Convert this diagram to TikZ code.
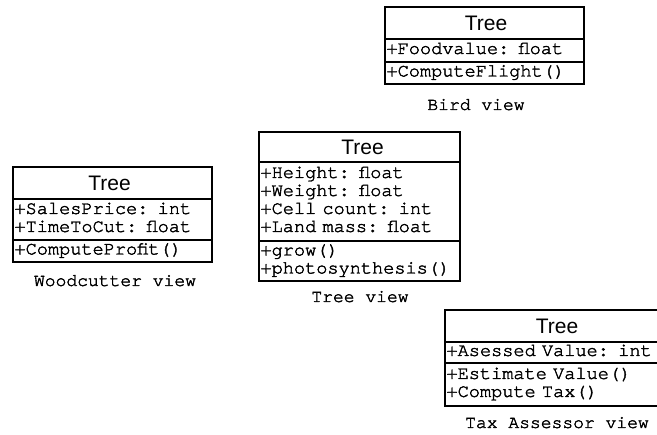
\documentclass[tikz,border=0pt]{standalone}
\usepackage{fontspec}
\newfontfamily\helvfont{Liberation Sans}
\newfontfamily\cursorfont{texgyrecursor-regular.otf}[FakeBold=2,Kerning=Off]
\newcommand\courfont{\cursorfont\fontsize{18.6}{18}\selectfont}
\newcommand\lblfont{\cursorfont\fontsize{18}{18}\selectfont}
\newcommand\ttlfont{\helvfont\fontsize{21}{21}\selectfont}
\newcommand\rowstrut{\rule[-5.5pt]{0pt}{18pt}}
\tikzset{
  clsbox/.style={draw=black, line width=2pt, inner xsep=1.5pt, inner ysep=0pt,
    anchor=north west, outer sep=0pt},
  ttlbox/.style={clsbox, font=\ttlfont, align=center},
  secbox/.style={clsbox, font=\courfont, align=left},
  viewlbl/.style={font=\lblfont, anchor=base, inner sep=0pt}
}
\begin{document}
\begin{tikzpicture}[x=1pt,y=-1pt]
\useasboundingbox (0,0) rectangle (657,435);
% Bird view
\node[ttlbox, minimum width=199pt, text width=196pt, minimum height=32pt] (birdT) at (385,7) {\hspace*{3pt}Tree};
\node[secbox, minimum width=199pt, text width=196pt, minimum height=23pt] (birdA) at (birdT.south west) {\rowstrut+Foodvalue: float};
\node[secbox, minimum width=199pt, text width=196pt, minimum height=22pt] (birdM) at (birdA.south west) {\rowstrut+ComputeFlight()};
\node[viewlbl] (birdL) at (476,110) {Bird view};
% Woodcutter view
\node[ttlbox, minimum width=199pt, text width=196pt, minimum height=32pt] (woodT) at (13,167) {\hspace*{-6pt}Tree};
\node[secbox, minimum width=199pt, text width=196pt, minimum height=41pt] (woodA) at (woodT.south west) {\rowstrut+SalesPrice: int\\\rowstrut+TimeToCut: float};
\node[secbox, minimum width=199pt, text width=196pt, minimum height=22pt] (woodM) at (woodA.south west) {\rowstrut+ComputeProfit()};
\node[viewlbl] (woodL) at (115,286) {Woodcutter view};
% Tree view
\node[ttlbox, minimum width=201pt, text width=198pt, minimum height=30pt] (treeT) at (259,132) {\hspace*{6pt}Tree};
\node[secbox, minimum width=201pt, text width=198pt, minimum height=79pt] (treeA) at (treeT.south west) {\rowstrut+Height: float\\\rowstrut+Weight: float\\\rowstrut+Cell count: int\\\rowstrut+Land mass: float};
\node[secbox, minimum width=201pt, text width=198pt, minimum height=40pt] (treeM) at (treeA.south west) {\rowstrut+grow()\\\rowstrut+photosynthesis()};
\node[viewlbl] (treeL) at (360,302) {Tree view};
% Tax Assessor view
\node[ttlbox, minimum width=214pt, text width=211pt, minimum height=32pt] (taxT) at (445,310) {\hspace*{10pt}Tree};
\node[secbox, minimum width=214pt, text width=211pt, minimum height=21pt] (taxA) at (taxT.south west) {\rowstrut+Asessed Value: int};
\node[secbox, minimum width=214pt, text width=211pt, minimum height=43pt] (taxM) at (taxA.south west) {\rowstrut+Estimate Value()\\\rowstrut+Compute Tax()};
\node[viewlbl] (taxL) at (557,428) {Tax Assessor view};
\end{tikzpicture}
\end{document}
